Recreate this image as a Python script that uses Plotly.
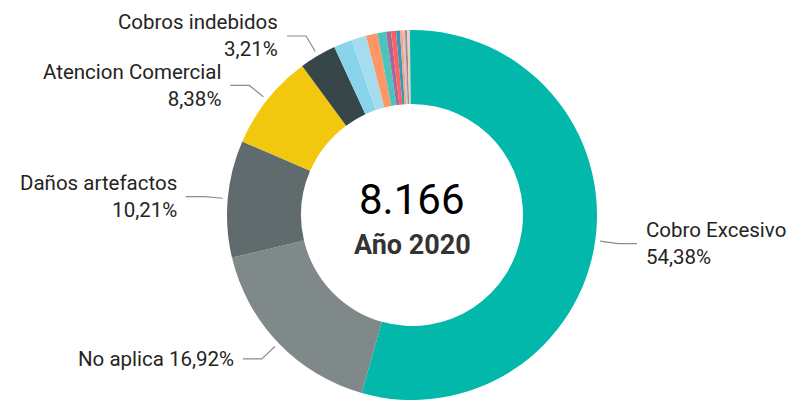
import math
import plotly.graph_objects as go

# ---- data ----
categories = ["Cobro Excesivo", "No aplica", "Daños artefactos", "Atencion Comercial",
              "Cobros indebidos", "Categoría 6", "Categoría 7", "Categoría 8", "Categoría 9",
              "Categoría 10", "Categoría 11", "Categoría 12", "Categoría 13", "Categoría 14",
              "Categoría 15", "Categoría 16", "Categoría 17"]
percentages = [54.38, 16.92, 10.21, 8.38, 3.21, 1.60, 1.30, 1.00, 0.76,
               0.43, 0.43, 0.34, 0.23, 0.20, 0.20, 0.23, 0.18]
colors = ["#01B8AA", "#7F898A", "#5F6B6D", "#F2C80F", "#374649", "#8AD4EB", "#A6DDEE",
          "#FE9666", "#4AC5BB", "#A66999", "#FD625E", "#3599B8", "#F5A488", "#DFBFBF",
          "#9E8F8B", "#E8D0C8", "#01B8AA"]
total_label = "8.166"
year_label = "Año 2020"
labeled = 5  # first five slices carry outside labels

# ---- geometry (pixels, in figure coordinates; page body adds an 8px offset) ----
W, H = 795, 401
cx, cy, R = 404, 207, 185
hole = 0.6

def px(x):
    return x / W

def py(y):
    return 1 - y / H

fig = go.Figure(go.Pie(
    labels=categories, values=percentages, sort=False, direction="clockwise",
    hole=hole, marker=dict(colors=colors, line=dict(width=0)),
    textinfo="none", hovertemplate="%{label}: %{value:.2f}%<extra></extra>",
    domain=dict(x=[px(cx - R), px(cx + R)], y=[py(cy + R), py(cy - R)]),
    showlegend=False,
))

annotations = []
shapes = []
total = sum(percentages)
cum = 0.0
for i, (name, v) in enumerate(zip(categories, percentages)):
    mid = (cum + v / 2) / total * 2 * math.pi
    cum += v
    if i >= labeled:
        continue
    s, c = math.sin(mid), math.cos(mid)
    x0, y0 = cx + 190 * s, cy - 190 * c
    x1, y1 = cx + 208 * s, cy - 208 * c
    right = s > 0
    x2 = x1 + (19 if right else -19)
    shapes.append(dict(type="path", xref="paper", yref="paper",
                       path=f"M {px(x0)} {py(y0)} L {px(x1)} {py(y1)} L {px(x2)} {py(y1)}",
                       line=dict(color="#8C8C8C", width=1.2)))
    pct = f"{v:.2f}".replace(".", ",") + "%"
    if name == "No aplica":
        text = f"{name} {pct}"
    else:
        text = f"{name}<br>{pct}"
    annotations.append(dict(
        x=px(x2 + (7 if right else -7)), y=py(y1), xref="paper", yref="paper",
        text=text, showarrow=False, xanchor="left" if right else "right",
        yanchor="middle", align="left" if right else "right",
        font=dict(family="Roboto", size=20.5, color="#252423")))

annotations.append(dict(x=px(cx), y=py(191), xref="paper", yref="paper", text=total_label,
                        showarrow=False, font=dict(family="Roboto", size=42, color="#000000")))
annotations.append(dict(x=px(cx), y=py(237), xref="paper", yref="paper",
                        text=f"<b>{year_label}</b>", showarrow=False,
                        font=dict(family="Roboto", size=27, color="#333333")))

fig.update_layout(width=W, height=H, margin=dict(l=0, r=0, t=0, b=0),
                  paper_bgcolor="white", plot_bgcolor="white",
                  annotations=annotations, shapes=shapes)
fig.write_html("out.html")
